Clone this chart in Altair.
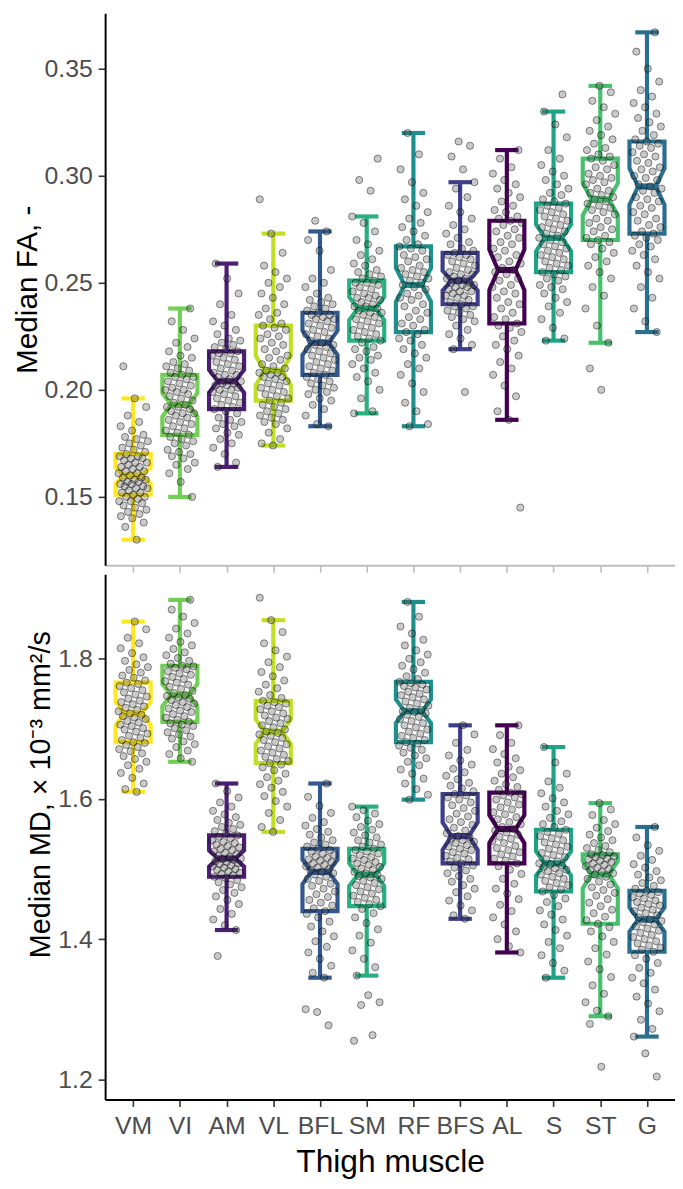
import math
import json
import altair as alt
import pandas as pd

MUSCLES = ["VM", "VI", "AM", "VL", "BFL", "SM", "RF", "BFS", "AL", "S", "ST", "G"]
COLORS = ["#FDE725", "#72CF55", "#4A1E73", "#BEDF26", "#31598F", "#2AB07F",
          "#1F8F8D", "#3E3E8A", "#440154", "#20A287", "#48C16E", "#2A6F90"]

# ---- Median FA (values x 0.001) : box statistics ----
FA_LO = [130, 150, 164, 174, 183, 189, 183, 219, 186, 223, 222, 227]
FA_Q1 = [151, 179, 191, 195, 207, 223, 227, 240, 231, 255, 270, 273]
FA_MED = [160, 193, 204, 209, 222, 238, 249, 251, 256, 271, 289, 295]
FA_Q3 = [170, 207, 218, 230, 236, 251, 267, 264, 279, 287, 308, 316]
FA_HI = [196, 238, 259, 273, 274, 281, 320, 297, 312, 330, 342, 367]

# ---- Median MD (values x 0.001) ----
MD_LO = [1610, 1653, 1413, 1553, 1345, 1348, 1599, 1429, 1381, 1345, 1290, 1261]
MD_Q1 = [1681, 1710, 1489, 1651, 1440, 1447, 1681, 1508, 1508, 1468, 1422, 1382]
MD_MED = [1722, 1748, 1515, 1696, 1496, 1492, 1725, 1547, 1557, 1508, 1492, 1428]
MD_Q3 = [1766, 1790, 1548, 1740, 1529, 1529, 1767, 1607, 1609, 1556, 1521, 1469]
MD_HI = [1853, 1884, 1622, 1855, 1622, 1589, 1881, 1705, 1705, 1674, 1594, 1560]

# ---- individual subjects, FA (x 0.001) ----
FA_VM = [130, 136, 138, 140, 141, 142, 143, 144, 145, 146, 147, 148, 148, 149, 150, 150,
         151, 152, 152, 153, 154, 154, 155, 155, 156, 156, 157, 157, 158, 158, 159, 159,
         160, 161, 161, 162, 162, 163, 164, 164, 165, 166, 166, 167, 168, 168, 169, 169,
         170, 171, 172, 173, 174, 175, 176, 177, 178, 179, 181, 183, 185, 188, 192, 196, 211]
FA_VI = [150, 157, 161, 163, 165, 166, 168, 169, 170, 171, 172, 174, 175, 176, 177, 178,
         179, 180, 181, 182, 183, 184, 185, 186, 187, 188, 189, 189, 190, 191, 192, 192,
         193, 194, 195, 196, 197, 198, 199, 200, 200, 201, 202, 203, 204, 205, 206, 206,
         207, 208, 209, 210, 211, 212, 213, 215, 216, 218, 220, 222, 224, 228, 232, 238]
FA_AM = [164, 166, 170, 173, 175, 177, 179, 180, 182, 183, 184, 185, 186, 187, 189, 190,
         191, 192, 193, 194, 195, 196, 197, 198, 199, 200, 200, 201, 202, 202, 203, 203,
         204, 205, 206, 207, 207, 208, 209, 210, 211, 212, 213, 214, 215, 216, 217, 217,
         218, 219, 220, 221, 222, 223, 224, 226, 228, 230, 232, 235, 240, 245, 252, 259]
FA_VL = [174, 175, 177, 180, 182, 184, 185, 186, 187, 188, 189, 190, 191, 192, 193, 194,
         195, 196, 197, 198, 199, 200, 201, 202, 203, 204, 205, 206, 206, 207, 208, 208,
         209, 210, 211, 212, 214, 215, 216, 218, 219, 221, 222, 224, 225, 226, 228, 229,
         230, 231, 233, 235, 236, 238, 240, 243, 245, 248, 250, 252, 255, 258, 264, 273, 289]
FA_BFL = [183, 184, 188, 191, 193, 195, 196, 198, 199, 200, 201, 202, 203, 204, 205, 206,
          207, 208, 209, 210, 211, 212, 213, 214, 215, 216, 217, 218, 219, 220, 221, 221,
          222, 223, 224, 225, 226, 227, 228, 229, 230, 231, 232, 233, 233, 234, 235, 235,
          236, 237, 238, 239, 240, 241, 242, 243, 245, 248, 250, 252, 256, 265, 270, 274, 279]
FA_SM = [189, 190, 196, 200, 204, 206, 208, 210, 212, 214, 215, 216, 218, 219, 220, 222,
         223, 224, 225, 226, 227, 228, 229, 230, 231, 232, 233, 234, 235, 236, 236, 237,
         238, 239, 239, 240, 241, 242, 243, 243, 244, 245, 246, 247, 248, 249, 250, 250,
         251, 252, 253, 254, 255, 256, 258, 259, 261, 263, 265, 268, 270, 274, 278, 281, 293, 298, 308]
FA_RF = [183, 184, 190, 194, 199, 203, 207, 210, 212, 215, 217, 219, 221, 223, 224, 226,
         227, 228, 230, 231, 233, 234, 236, 237, 239, 240, 242, 243, 244, 245, 247, 248,
         249, 250, 251, 252, 253, 254, 255, 256, 257, 258, 260, 261, 262, 263, 265, 266,
         267, 268, 270, 272, 274, 276, 278, 280, 283, 286, 289, 292, 297, 303, 310, 320]
FA_BFS = [199, 219, 221, 224, 226, 228, 230, 232, 233, 234, 235, 236, 237, 238, 239, 239,
          240, 241, 242, 243, 244, 244, 245, 246, 246, 247, 248, 248, 249, 249, 250, 250,
          251, 252, 252, 253, 254, 254, 255, 256, 257, 258, 259, 260, 261, 262, 263, 263,
          264, 265, 266, 268, 269, 271, 273, 275, 277, 280, 283, 286, 290, 294, 297, 303, 309, 314, 316]
FA_AL = [145, 186, 190, 197, 202, 207, 210, 213, 216, 219, 221, 223, 225, 227, 229, 230,
         231, 233, 234, 236, 238, 240, 241, 243, 245, 246, 248, 249, 251, 252, 254, 255,
         256, 257, 259, 260, 262, 263, 265, 266, 268, 269, 271, 272, 274, 275, 277, 278,
         279, 280, 281, 283, 284, 286, 288, 290, 292, 294, 296, 298, 301, 304, 308, 312]
FA_S = [223, 224, 229, 233, 236, 239, 241, 243, 245, 247, 248, 249, 251, 252, 253, 254,
        255, 256, 257, 258, 259, 260, 261, 262, 263, 264, 265, 266, 267, 268, 269, 270,
        271, 272, 273, 274, 275, 276, 277, 278, 279, 280, 281, 282, 283, 284, 285, 286,
        287, 288, 289, 291, 292, 294, 296, 298, 300, 302, 305, 308, 312, 318, 324, 330, 338]
FA_ST = [200, 210, 222, 230, 238, 244, 248, 252, 255, 258, 260, 262, 264, 266, 268, 269,
         270, 271, 272, 274, 275, 276, 278, 279, 280, 282, 283, 284, 285, 286, 287, 288,
         289, 290, 291, 292, 293, 294, 296, 297, 298, 299, 300, 301, 303, 304, 305, 307,
         308, 309, 310, 312, 313, 315, 317, 319, 321, 323, 326, 329, 332, 335, 339, 342]
FA_G = [227, 232, 238, 243, 248, 252, 255, 258, 261, 263, 265, 267, 268, 270, 271, 272,
        273, 274, 276, 277, 279, 280, 282, 283, 285, 286, 288, 289, 290, 292, 293, 294,
        295, 296, 298, 299, 300, 302, 303, 304, 306, 307, 309, 310, 311, 313, 314, 315,
        316, 317, 319, 321, 323, 325, 327, 329, 332, 334, 337, 340, 344, 350, 358, 367]

# ---- individual subjects, MD (x 0.001, 10^-3 mm^2/s) ----
MD_VM = [1610, 1614, 1622, 1630, 1637, 1643, 1648, 1653, 1657, 1661, 1665, 1668, 1671, 1674, 1677, 1680,
         1681, 1684, 1687, 1690, 1693, 1696, 1699, 1701, 1704, 1706, 1709, 1711, 1714, 1716, 1718, 1720,
         1722, 1725, 1727, 1730, 1732, 1735, 1738, 1740, 1743, 1746, 1749, 1752, 1755, 1758, 1761, 1764,
         1766, 1769, 1773, 1776, 1780, 1784, 1788, 1792, 1797, 1802, 1808, 1815, 1822, 1830, 1842, 1853]
MD_VI = [1653, 1658, 1664, 1669, 1674, 1678, 1682, 1686, 1689, 1692, 1695, 1698, 1701, 1704, 1706, 1708,
         1710, 1713, 1716, 1718, 1721, 1724, 1726, 1729, 1731, 1734, 1736, 1738, 1741, 1743, 1745, 1747,
         1748, 1751, 1754, 1757, 1760, 1763, 1766, 1768, 1771, 1774, 1777, 1779, 1782, 1785, 1787, 1789,
         1790, 1793, 1797, 1801, 1805, 1809, 1814, 1819, 1824, 1830, 1836, 1843, 1851, 1860, 1870, 1884]
MD_AM = [1376, 1413, 1420, 1428, 1436, 1443, 1450, 1456, 1461, 1466, 1470, 1474, 1478, 1481, 1484, 1487,
         1489, 1491, 1493, 1495, 1497, 1499, 1500, 1502, 1504, 1505, 1507, 1508, 1510, 1511, 1513, 1514,
         1515, 1517, 1519, 1521, 1523, 1525, 1527, 1529, 1531, 1533, 1535, 1537, 1539, 1541, 1544, 1546,
         1548, 1551, 1554, 1557, 1560, 1563, 1566, 1570, 1574, 1578, 1583, 1589, 1595, 1602, 1611, 1622]
MD_VL = [1553, 1560, 1570, 1580, 1589, 1597, 1604, 1610, 1616, 1621, 1626, 1631, 1636, 1641, 1645, 1649,
         1651, 1654, 1657, 1660, 1663, 1666, 1669, 1672, 1675, 1678, 1681, 1684, 1687, 1690, 1692, 1694,
         1696, 1699, 1702, 1705, 1708, 1711, 1714, 1716, 1719, 1722, 1725, 1728, 1731, 1733, 1736, 1738,
         1740, 1744, 1748, 1753, 1758, 1763, 1769, 1775, 1781, 1788, 1795, 1803, 1812, 1822, 1838, 1855, 1887]
MD_BFL = [1277, 1296, 1300, 1345, 1352, 1362, 1372, 1381, 1389, 1397, 1404, 1411, 1418, 1425, 1431, 1436,
          1440, 1444, 1448, 1452, 1456, 1460, 1464, 1468, 1472, 1476, 1479, 1483, 1486, 1489, 1492, 1494,
          1496, 1498, 1500, 1502, 1504, 1506, 1508, 1510, 1512, 1514, 1516, 1518, 1520, 1522, 1525, 1527,
          1529, 1532, 1535, 1538, 1541, 1545, 1549, 1553, 1557, 1562, 1567, 1573, 1580, 1590, 1603, 1622]
MD_SM = [1255, 1263, 1306, 1310, 1320, 1348, 1360, 1372, 1384, 1395, 1405, 1414, 1423, 1431, 1437, 1443,
         1447, 1450, 1453, 1456, 1459, 1462, 1465, 1468, 1471, 1474, 1477, 1480, 1483, 1486, 1488, 1490,
         1492, 1494, 1496, 1499, 1501, 1503, 1506, 1508, 1510, 1513, 1515, 1517, 1520, 1522, 1525, 1527,
         1529, 1532, 1535, 1538, 1541, 1545, 1548, 1552, 1556, 1560, 1564, 1569, 1574, 1579, 1584, 1589]
MD_RF = [1599, 1606, 1614, 1622, 1629, 1636, 1642, 1648, 1653, 1658, 1662, 1666, 1670, 1673, 1676, 1679,
         1681, 1684, 1687, 1690, 1693, 1696, 1699, 1702, 1705, 1708, 1711, 1714, 1717, 1720, 1722, 1724,
         1725, 1727, 1730, 1733, 1736, 1739, 1742, 1745, 1748, 1750, 1753, 1756, 1759, 1761, 1763, 1765,
         1767, 1771, 1775, 1780, 1785, 1790, 1795, 1800, 1806, 1812, 1819, 1827, 1836, 1846, 1860, 1881]
MD_BFS = [1429, 1434, 1441, 1448, 1455, 1461, 1467, 1472, 1477, 1482, 1486, 1490, 1494, 1498, 1502, 1505,
          1508, 1511, 1514, 1516, 1519, 1522, 1524, 1527, 1529, 1532, 1534, 1537, 1539, 1541, 1543, 1545,
          1547, 1551, 1555, 1559, 1563, 1567, 1571, 1575, 1579, 1583, 1587, 1591, 1595, 1599, 1602, 1605,
          1607, 1611, 1615, 1619, 1623, 1628, 1633, 1638, 1643, 1649, 1655, 1662, 1670, 1680, 1692, 1705]
MD_AL = [1381, 1390, 1400, 1411, 1421, 1431, 1440, 1449, 1457, 1465, 1472, 1479, 1486, 1493, 1499, 1504,
         1508, 1512, 1515, 1518, 1521, 1524, 1527, 1530, 1533, 1537, 1540, 1543, 1546, 1549, 1552, 1555,
         1557, 1560, 1564, 1567, 1571, 1574, 1578, 1581, 1585, 1588, 1592, 1595, 1599, 1602, 1605, 1607,
         1609, 1613, 1617, 1621, 1626, 1631, 1636, 1641, 1646, 1652, 1658, 1664, 1671, 1680, 1691, 1705]
MD_S = [1345, 1355, 1366, 1377, 1387, 1396, 1405, 1413, 1421, 1428, 1435, 1441, 1447, 1453, 1458, 1463,
        1468, 1471, 1474, 1477, 1480, 1483, 1486, 1489, 1492, 1494, 1497, 1499, 1501, 1503, 1505, 1507,
        1508, 1511, 1514, 1517, 1520, 1523, 1526, 1529, 1532, 1535, 1538, 1541, 1544, 1547, 1550, 1553,
        1556, 1560, 1564, 1568, 1573, 1578, 1583, 1589, 1595, 1601, 1608, 1616, 1625, 1636, 1652, 1674]
MD_ST = [1218, 1279, 1290, 1298, 1310, 1322, 1334, 1346, 1357, 1368, 1378, 1387, 1396, 1404, 1411, 1417,
         1422, 1427, 1432, 1437, 1442, 1447, 1452, 1457, 1462, 1466, 1470, 1474, 1478, 1482, 1486, 1489,
         1492, 1494, 1496, 1498, 1500, 1502, 1504, 1506, 1508, 1510, 1512, 1514, 1515, 1517, 1518, 1520,
         1521, 1524, 1527, 1530, 1533, 1537, 1541, 1545, 1549, 1554, 1559, 1564, 1570, 1577, 1585, 1594]
MD_G = [1204, 1237, 1261, 1272, 1285, 1297, 1308, 1318, 1328, 1337, 1345, 1352, 1359, 1366, 1372, 1377,
        1382, 1385, 1388, 1391, 1394, 1397, 1400, 1403, 1406, 1409, 1412, 1415, 1418, 1421, 1424, 1426,
        1428, 1431, 1434, 1437, 1440, 1442, 1445, 1448, 1450, 1453, 1455, 1458, 1460, 1463, 1465, 1467,
        1469, 1472, 1476, 1480, 1484, 1488, 1492, 1497, 1502, 1507, 1513, 1519, 1526, 1534, 1545, 1560]

FA_POINTS = [FA_VM, FA_VI, FA_AM, FA_VL, FA_BFL, FA_SM, FA_RF, FA_BFS, FA_AL, FA_S, FA_ST, FA_G]
MD_POINTS = [MD_VM, MD_VI, MD_AM, MD_VL, MD_BFL, MD_SM, MD_RF, MD_BFS, MD_AL, MD_S, MD_ST, MD_G]

FA_TICKS = [0.15, 0.20, 0.25, 0.30, 0.35]
MD_TICKS = [1.2, 1.4, 1.6, 1.8]

# ---------------- styling ----------------
FONT = "Liberation Sans"
HALF_BOX = 0.375   # half box width (x units)
HALF_CAP = 0.25    # half whisker-cap width
JIT = 0.32         # jitter half width
LW = 4.2


def jitter(i, j):
    # deterministic low-discrepancy horizontal spread
    return ((((j + 1) * 0.6180339887 + i * 0.2917) % 1.0) - 0.5) * 2 * JIT


def build(lo, q1, med, q3, hi, pts, k=0.001):
    box, poly, dots = [], [], []
    for i, m in enumerate(MUSCLES):
        n = len(pts[i])
        nh = 1.58 * (q3[i] - q1[i]) / math.sqrt(n)
        box.append(dict(muscle=m, idx=i, lo=lo[i] * k, q1=q1[i] * k, med=med[i] * k,
                        q3=q3[i] * k, hi=hi[i] * k,
                        cx1=i - HALF_CAP, cx2=i + HALF_CAP,
                        mx1=i - HALF_BOX / 2, mx2=i + HALF_BOX / 2))
        nu, nl = med[i] + nh, med[i] - nh
        h = HALF_BOX
        verts = [(0, q3[i]), (-h, q3[i]), (-h, nu), (-h / 2, med[i]), (-h, nl), (-h, q1[i]),
                 (h, q1[i]), (h, nl), (h / 2, med[i]), (h, nu), (h, q3[i]), (0, q3[i])]
        for o, (dx, yy) in enumerate(verts):
            poly.append(dict(muscle=m, order=o, x=i + dx, y=yy * k))
        for j, v in enumerate(pts[i]):
            dots.append(dict(muscle=m, x=i + jitter(i, j), y=v * k))
    return pd.DataFrame(box), pd.DataFrame(poly), pd.DataFrame(dots)


label_expr = json.dumps(MUSCLES) + "[round(datum.value)]"
XSCALE = alt.Scale(domain=[-0.6, 11.6], nice=False, zero=False)
COLOR = alt.Color("muscle:N", scale=alt.Scale(domain=MUSCLES, range=COLORS), legend=None)


def panel(box, poly, dots, ydomain, ticks, fmt, ytitle, height, bottom,
          title_size=31, title_y=None):
    yscale = alt.Scale(domain=ydomain, nice=False, zero=False)
    if bottom:
        xaxis = alt.Axis(values=list(range(12)), labelExpr=label_expr, title="Thigh muscle",
                         labelOverlap=False, labelFlush=False, labelBound=False,
                         domainColor="black", tickColor="#333333", labelPadding=7,
                         titlePadding=9, titleFontSize=32)
    else:
        xaxis = alt.Axis(values=list(range(12)), labels=False, title=None,
                         domainColor="#BEBEBE", tickColor="#BEBEBE")
    yaxis_kw = dict(values=ticks, format=fmt, title=ytitle, titlePadding=2,
                    titleFontSize=title_size, labelPadding=6)
    if title_y is not None:
        yaxis_kw["titleY"] = title_y
    yaxis = alt.Axis(**yaxis_kw)

    base_box = alt.Chart(box)
    up = base_box.mark_rule(strokeWidth=LW).encode(
        x=alt.X("idx:Q", scale=XSCALE, axis=xaxis),
        y=alt.Y("q3:Q", scale=yscale, axis=yaxis), y2="hi:Q", color=COLOR)
    dn = base_box.mark_rule(strokeWidth=LW).encode(
        x=alt.X("idx:Q", scale=XSCALE), y=alt.Y("lo:Q", scale=yscale), y2="q1:Q", color=COLOR)
    cap_hi = base_box.mark_rule(strokeWidth=LW).encode(
        x=alt.X("cx1:Q", scale=XSCALE), x2="cx2:Q", y=alt.Y("hi:Q", scale=yscale), color=COLOR)
    cap_lo = base_box.mark_rule(strokeWidth=LW).encode(
        x=alt.X("cx1:Q", scale=XSCALE), x2="cx2:Q", y=alt.Y("lo:Q", scale=yscale), color=COLOR)
    outline = alt.Chart(poly).mark_line(strokeWidth=LW, strokeJoin="miter").encode(
        x=alt.X("x:Q", scale=XSCALE), y=alt.Y("y:Q", scale=yscale),
        detail="muscle:N", order=alt.Order("order:Q"), color=COLOR)
    median = base_box.mark_rule(strokeWidth=LW * 1.5).encode(
        x=alt.X("mx1:Q", scale=XSCALE), x2="mx2:Q", y=alt.Y("med:Q", scale=yscale), color=COLOR)
    pts = alt.Chart(dots).mark_circle(size=52, fill="#404040", fillOpacity=0.28,
                                      stroke="black", strokeOpacity=0.5, strokeWidth=0.9).encode(
        x=alt.X("x:Q", scale=XSCALE), y=alt.Y("y:Q", scale=yscale))
    return alt.layer(up, dn, cap_hi, cap_lo, outline, median, pts).properties(
        width=575, height=height)


fa_box, fa_poly, fa_dots = build(FA_LO, FA_Q1, FA_MED, FA_Q3, FA_HI, FA_POINTS)
md_box, md_poly, md_dots = build(MD_LO, MD_Q1, MD_MED, MD_Q3, MD_HI, MD_POINTS)

top = panel(fa_box, fa_poly, fa_dots, [0.11806, 0.37593], FA_TICKS, ".2f",
            "Median FA, -", 557, bottom=False, title_size=30)
bot = panel(md_box, md_poly, md_dots, [1.1713, 1.9206], MD_TICKS, ".1f",
            "Median MD, \u00d7 10\u207b\u00b3 mm\u00b2/s", 530, bottom=True,
            title_size=29, title_y=222)

chart = alt.vconcat(top, bot, spacing=1).properties(
    padding={"left": 4, "top": 0, "right": 0, "bottom": 0}
).configure(
    font=FONT
).configure_view(stroke=None).configure_axis(
    grid=False, domainColor="black", domainWidth=2, tickWidth=1.6, tickSize=7,
    tickColor="#333333", labelFont=FONT, labelFontSize=25, labelColor="#4D4D4D",
    labelPadding=7, titleFont=FONT, titleFontWeight="normal", titleColor="black"
)

chart.save("out.html", embed_options={"renderer": "svg", "actions": False})
